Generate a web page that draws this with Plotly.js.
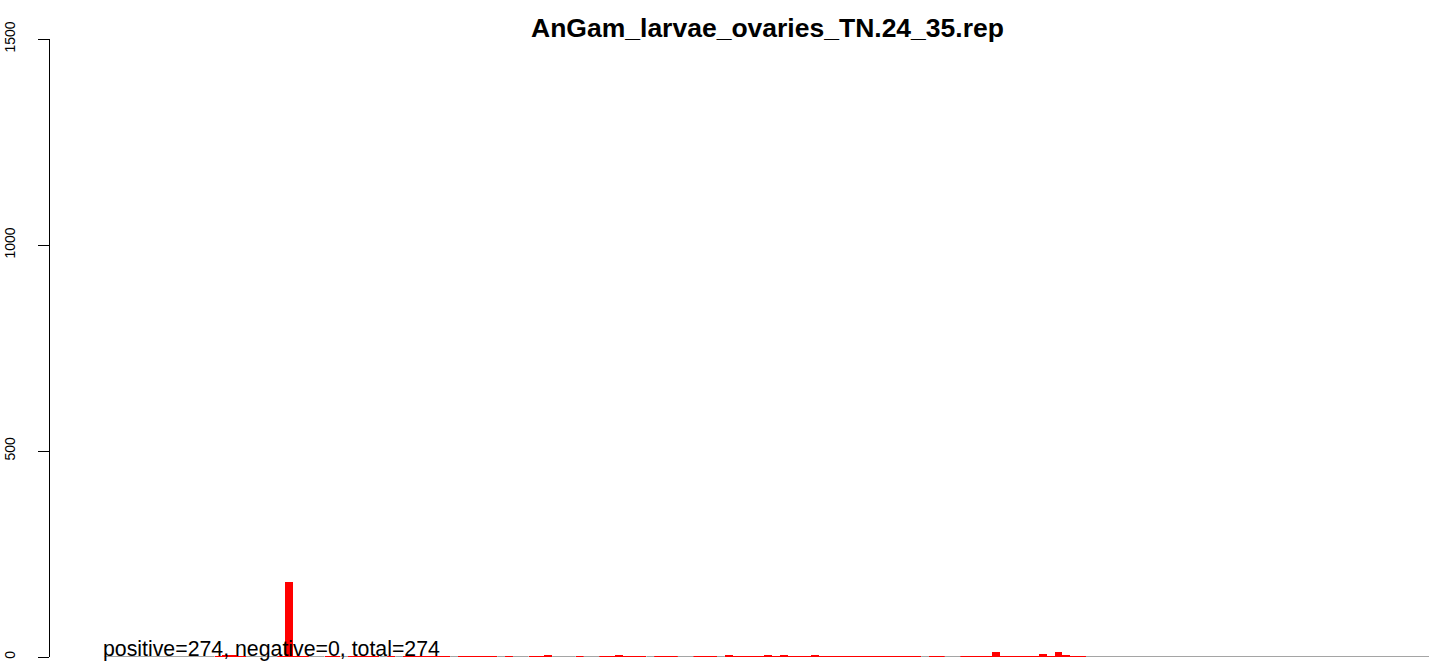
<!DOCTYPE html>
<html>
<head>
<meta charset="utf-8">
<script src="https://cdn.plot.ly/plotly-3.0.1.min.js"></script>
<style>html,body{margin:0;padding:0;background:#fff;}#chart{width:1429px;height:664px;}</style>
</head>
<body>
<div id="chart"></div>
<script>
// Bin index of each non-zero bar and its value
const binIndex = [14,15,16,17,22,23,24,25,28,29,31,32,33,34,36,38,39,40,41,42,43,45,46,47,48,49,51,54,55,56,60,63,64,65,66,67,68,70,71,72,75,76,77,79,80,81,82,83,84,85,86,87,88,89,90,91,92,93,94,95,96,97,98,99,100,101,102,103,105,106,109,110,111,112,113,114,115,116,117,118,119,120,121,122,123,124];
const binValue = [2,6,6,2,2,182,2,2,2,2,2,2,2,2,2,2,2,2,2,2,2,2,2,2,2,2,2,2,2,4,2,2,2,6,2,2,2,2,2,2,3,3,3,4,2,2,2,2,4,2,4,2,2,2,6,2,2,2,2,2,2,2,2,2,2,2,2,2,2,2,2,2,2,2,11,2,2,2,2,2,8,3,11,5,2,2];
const totalBins = 172;          // number of bins drawn along the axis
const yTicks = [0, 500, 1000, 1500];
const titleText = "AnGam_larvae_ovaries_TN.24_35.rep";
const noteText = "positive=274, negative=0, total=274";

// grey baseline where a bin has zero count
const valueByBin = {};
binIndex.forEach((b, i) => { valueByBin[b] = binValue[i]; });
const gx = [], gy = [];
let open = false;
for (let k = 0; k < totalBins; k++) {
  if (!valueByBin[k]) {
    if (!open) { gx.push(k - 0.5); gy.push(0); open = true; }
    gx.push(k + 0.5); gy.push(0);
  } else if (open) {
    gx.push(null); gy.push(null); open = false;
  }
}

const traces = [
  {type: 'bar', x: binIndex, y: binValue, width: 1,
   marker: {color: '#ff0000', line: {width: 0}}, hoverinfo: 'x+y', showlegend: false},
  {type: 'scatter', mode: 'lines', x: gx, y: gy, connectgaps: false,
   line: {color: 'rgb(165,165,165)', width: 2}, hoverinfo: 'skip', showlegend: false}
];

const layout = {
  width: 1429, height: 664,
  margin: {l: 50, r: 0, t: 39, b: 7, pad: 0},
  paper_bgcolor: '#fff', plot_bgcolor: '#fff',
  font: {family: 'Liberation Sans, Arial, sans-serif', color: '#000'},
  bargap: 0,
  title: {text: '<b>' + titleText + '</b>', x: 0.5203, xref: 'paper', xanchor: 'center',
          y: 0.958, yref: 'container', yanchor: 'middle',
          font: {size: 26.5, family: 'Liberation Sans, Arial, sans-serif', color: '#000'}},
  xaxis: {range: [-7.47, 168.2], visible: false, fixedrange: true},
  yaxis: {range: [0, 1500], tickvals: yTicks, ticktext: yTicks.map(String),
          showline: true, linecolor: '#000', linewidth: 1, ticks: 'outside', ticklen: 11,
          tickcolor: '#000', tickwidth: 1, tickangle: -90, ticklabelstandoff: 17,
          showgrid: false, zeroline: false, tickfont: {size: 14, color: '#000'}},
  annotations: [{text: noteText, xref: 'x', yref: 'y', x: -0.5, y: 0,
                 xanchor: 'left', yanchor: 'bottom', xshift: -4, yshift: -6, showarrow: false,
                 font: {size: 21.3, color: '#000'}}]
};

Plotly.newPlot('chart', traces, layout, {displayModeBar: false, staticPlot: true});
</script>
</body>
</html>
